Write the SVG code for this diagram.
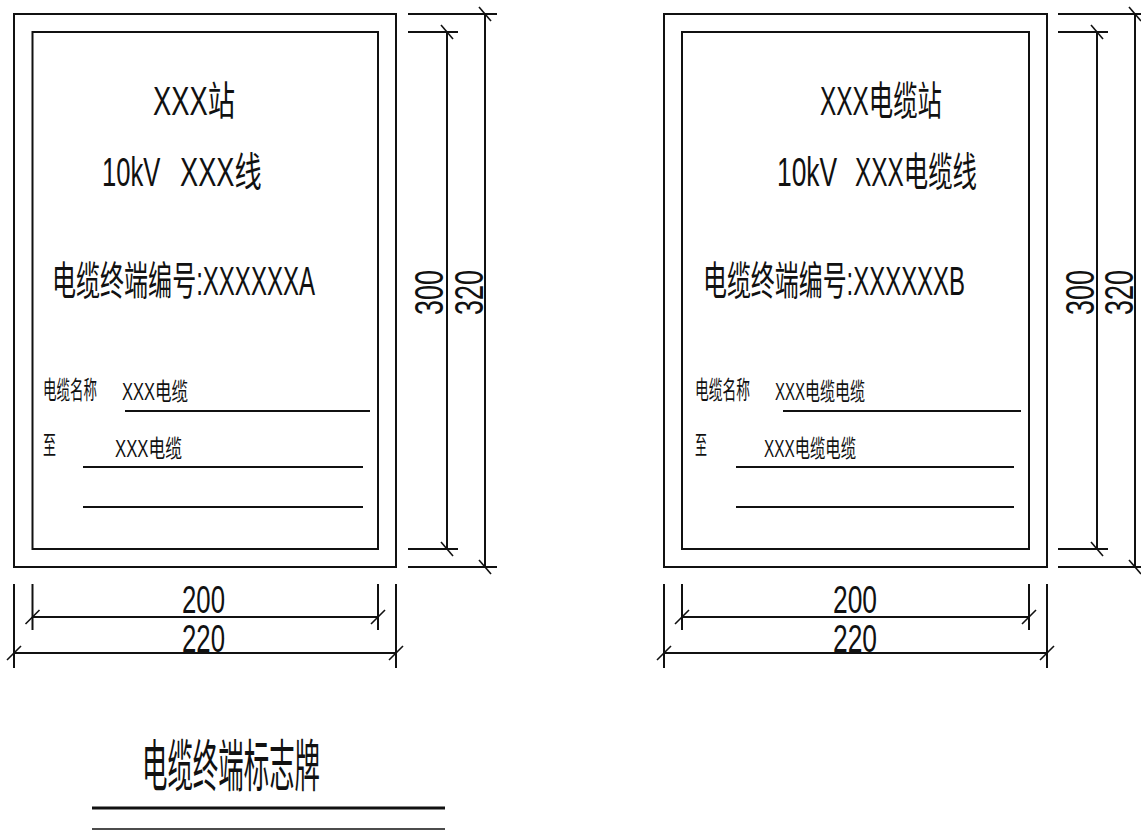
<svg xmlns="http://www.w3.org/2000/svg" width="1141" height="831" viewBox="0 0 1141 831">
<style>
.ln{stroke:#111;stroke-width:2;fill:none}
.tk{stroke:#111;stroke-width:1.6;fill:none}
.t{font-family:"Liberation Sans","Noto Sans CJK SC",sans-serif;fill:#111}
</style>
<defs>
<path id="vtk" d="M-6,-7 L6,7" class="tk"/>
<path id="htk" d="M-7,7 L7,-7" class="tk"/>
</defs>
<rect width="1141" height="831" fill="#fff"/>

<g id="panelA">
<rect x="14" y="14" width="382" height="553" class="ln"/>
<rect x="32.5" y="32" width="345.5" height="517" class="ln"/>
<text class="t" x="153" y="115" font-size="40" textLength="82" lengthAdjust="spacingAndGlyphs">XXX站</text>
<text class="t" transform="translate(102,186) scale(0.64,1)" font-size="40">10kV</text>
<text class="t" transform="translate(180,186) scale(0.68,1)" font-size="40">XXX线</text>
<text class="t" x="52" y="295" font-size="40" textLength="263" lengthAdjust="spacingAndGlyphs">电缆终端编号:XXXXXXA</text>
<text class="t" transform="translate(43,399) scale(0.54,1)" font-size="25">电缆名称</text>
<text class="t" x="122" y="400" font-size="24" textLength="66" lengthAdjust="spacingAndGlyphs">XXX电缆</text>
<line x1="125" y1="411" x2="370" y2="411" class="ln"/>
<text class="t" transform="translate(43,454) scale(0.52,1)" font-size="25">至</text>
<text class="t" x="115" y="457" font-size="24" textLength="67" lengthAdjust="spacingAndGlyphs">XXX电缆</text>
<line x1="83" y1="467" x2="363" y2="467" class="ln"/>
<line x1="83" y1="507" x2="363" y2="507" class="ln"/>
</g>

<g id="panelB">
<rect x="664" y="14" width="383" height="553" class="ln"/>
<rect x="682" y="32" width="347" height="517" class="ln"/>
<text class="t" x="820" y="115" font-size="40" textLength="122" lengthAdjust="spacingAndGlyphs">XXX电缆站</text>
<text class="t" transform="translate(777,186) scale(0.66,1)" font-size="40">10kV</text>
<text class="t" transform="translate(855,186) scale(0.61,1)" font-size="40">XXX电缆线</text>
<text class="t" x="703" y="295" font-size="40" textLength="262" lengthAdjust="spacingAndGlyphs">电缆终端编号:XXXXXXB</text>
<text class="t" transform="translate(695,399) scale(0.55,1)" font-size="25">电缆名称</text>
<text class="t" x="775" y="400" font-size="24" textLength="90" lengthAdjust="spacingAndGlyphs">XXX电缆电缆</text>
<line x1="783" y1="411" x2="1021" y2="411" class="ln"/>
<text class="t" transform="translate(695,454) scale(0.48,1)" font-size="25">至</text>
<text class="t" x="764" y="457" font-size="24" textLength="92" lengthAdjust="spacingAndGlyphs">XXX电缆电缆</text>
<line x1="736" y1="467" x2="1014" y2="467" class="ln"/>
<line x1="736" y1="507" x2="1014" y2="507" class="ln"/>
</g>

<g id="connectors">
<g id="dimsA">
<line x1="408" y1="14" x2="497" y2="14" class="ln"/>
<line x1="408" y1="32" x2="458" y2="32" class="ln"/>
<line x1="408" y1="549" x2="458" y2="549" class="ln"/>
<line x1="408" y1="567" x2="497" y2="567" class="ln"/>
<line x1="447" y1="32" x2="447" y2="549" class="ln"/>
<line x1="485" y1="14" x2="485" y2="567" class="ln"/>
<use href="#vtk" x="447" y="32"/><use href="#vtk" x="447" y="549"/>
<use href="#vtk" x="485" y="14"/><use href="#vtk" x="485" y="567"/>
<text class="t" transform="translate(443,315) rotate(-90)" font-size="40" textLength="45" lengthAdjust="spacingAndGlyphs">300</text>
<text class="t" transform="translate(483,315) rotate(-90)" font-size="40" textLength="45" lengthAdjust="spacingAndGlyphs">320</text>
<line x1="14" y1="584" x2="14" y2="668" class="ln"/>
<line x1="32.5" y1="584" x2="32.5" y2="630" class="ln"/>
<line x1="378" y1="584" x2="378" y2="630" class="ln"/>
<line x1="396" y1="584" x2="396" y2="668" class="ln"/>
<line x1="32.5" y1="617" x2="378" y2="617" class="ln"/>
<line x1="14" y1="653" x2="396" y2="653" class="ln"/>
<use href="#htk" x="32.5" y="617"/><use href="#htk" x="378" y="617"/>
<use href="#htk" x="14" y="653"/><use href="#htk" x="396" y="653"/>
<text class="t" x="182" y="613" font-size="38" textLength="43" lengthAdjust="spacingAndGlyphs">200</text>
<text class="t" x="182" y="652" font-size="38" textLength="43" lengthAdjust="spacingAndGlyphs">220</text>
</g>
<g id="dimsB">
<line x1="1058" y1="14" x2="1147" y2="14" class="ln"/>
<line x1="1058" y1="32" x2="1108" y2="32" class="ln"/>
<line x1="1058" y1="549" x2="1108" y2="549" class="ln"/>
<line x1="1058" y1="567" x2="1147" y2="567" class="ln"/>
<line x1="1097" y1="32" x2="1097" y2="549" class="ln"/>
<line x1="1135" y1="14" x2="1135" y2="567" class="ln"/>
<use href="#vtk" x="1097" y="32"/><use href="#vtk" x="1097" y="549"/>
<use href="#vtk" x="1135" y="14"/><use href="#vtk" x="1135" y="567"/>
<text class="t" transform="translate(1094,315) rotate(-90)" font-size="40" textLength="45" lengthAdjust="spacingAndGlyphs">300</text>
<text class="t" transform="translate(1133,315) rotate(-90)" font-size="40" textLength="45" lengthAdjust="spacingAndGlyphs">320</text>
<line x1="664" y1="584" x2="664" y2="668" class="ln"/>
<line x1="682" y1="584" x2="682" y2="630" class="ln"/>
<line x1="1029" y1="584" x2="1029" y2="630" class="ln"/>
<line x1="1047" y1="584" x2="1047" y2="668" class="ln"/>
<line x1="682" y1="617" x2="1029" y2="617" class="ln"/>
<line x1="664" y1="653" x2="1047" y2="653" class="ln"/>
<use href="#htk" x="682" y="617"/><use href="#htk" x="1029" y="617"/>
<use href="#htk" x="664" y="653"/><use href="#htk" x="1047" y="653"/>
<text class="t" x="833" y="613" font-size="38" textLength="44" lengthAdjust="spacingAndGlyphs">200</text>
<text class="t" x="833" y="652" font-size="38" textLength="44" lengthAdjust="spacingAndGlyphs">220</text>
</g>
</g>

<g id="title">
<text class="t" x="142" y="786" font-size="56" textLength="178" lengthAdjust="spacingAndGlyphs">电缆终端标志牌</text>
<line x1="92" y1="808" x2="445" y2="808" stroke="#111" stroke-width="3"/>
<line x1="92" y1="829" x2="445" y2="829" stroke="#111" stroke-width="1.5"/>
</g>
</svg>
